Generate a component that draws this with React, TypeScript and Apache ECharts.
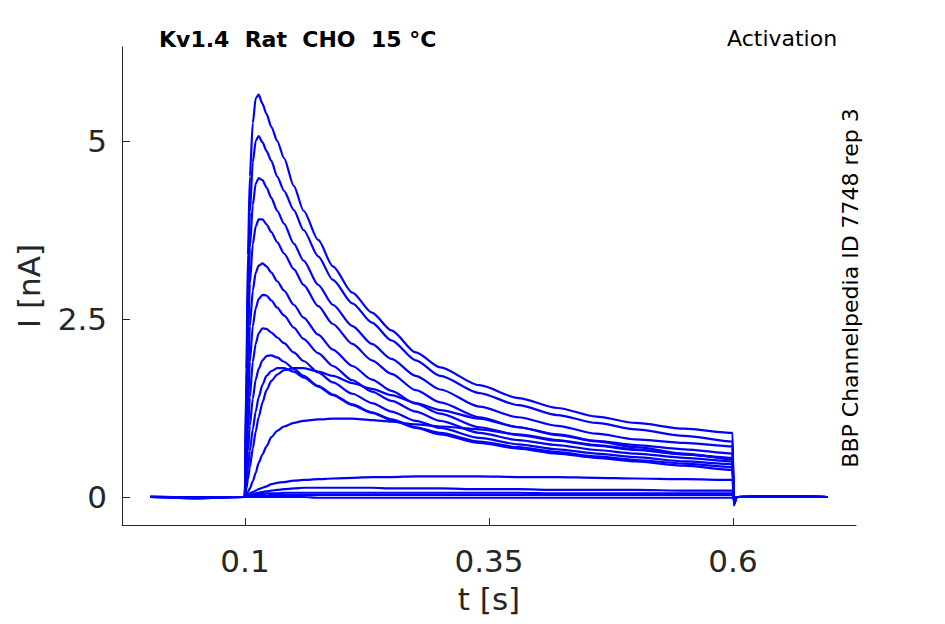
import React, { useEffect, useRef } from 'react';
import * as echarts from 'echarts';

// time samples [s]
const TIME = [0.003, 0.05, 0.0998, 0.1015, 0.103, 0.105, 0.108, 0.111, 0.114, 0.118, 0.122, 0.127, 0.133, 0.14, 0.15, 0.16, 0.175, 0.19, 0.21, 0.23, 0.25, 0.275, 0.3, 0.34, 0.38, 0.42, 0.46, 0.5, 0.55, 0.5995, 0.6008, 0.604, 0.65, 0.697];

// current traces [nA]
const I1 = [0.00, -0.01, 0.00, 1.80, 3.40, 4.50, 5.25, 5.60, 5.65, 5.52, 5.38, 5.20, 5.00, 4.76, 4.37, 4.02, 3.61, 3.24, 2.87, 2.59, 2.34, 2.03, 1.82, 1.57, 1.39, 1.25, 1.13, 1.04, 0.96, 0.90, -0.12, 0.00, 0.01, 0.00];
const I2 = [0.00, 0.00, 0.00, 1.60, 3.00, 4.00, 4.70, 5.00, 5.07, 4.98, 4.86, 4.72, 4.50, 4.30, 4.03, 3.75, 3.38, 3.05, 2.72, 2.45, 2.20, 1.92, 1.70, 1.46, 1.29, 1.15, 1.04, 0.95, 0.86, 0.78, -0.11, 0.00, 0.01, 0.00];
const I3 = [0.00, 0.00, 0.00, 1.40, 2.60, 3.50, 4.10, 4.40, 4.48, 4.45, 4.35, 4.20, 4.02, 3.84, 3.56, 3.32, 2.98, 2.70, 2.40, 2.15, 1.94, 1.70, 1.51, 1.27, 1.12, 1.00, 0.89, 0.81, 0.76, 0.71, -0.10, 0.00, 0.01, 0.00];
const I4 = [0.00, 0.00, 0.00, 1.20, 2.20, 3.00, 3.55, 3.80, 3.90, 3.90, 3.83, 3.72, 3.58, 3.42, 3.20, 2.98, 2.68, 2.43, 2.15, 1.92, 1.73, 1.50, 1.33, 1.12, 0.98, 0.88, 0.79, 0.73, 0.67, 0.61, -0.09, 0.00, 0.01, 0.00];
const I5 = [0.00, 0.00, 0.00, 0.90, 1.70, 2.40, 2.90, 3.15, 3.25, 3.28, 3.24, 3.15, 3.03, 2.90, 2.70, 2.52, 2.28, 2.07, 1.84, 1.65, 1.49, 1.31, 1.17, 0.98, 0.87, 0.79, 0.72, 0.66, 0.60, 0.55, -0.08, 0.00, 0.01, 0.00];
const I6 = [0.00, 0.00, 0.00, 0.70, 1.30, 1.90, 2.40, 2.65, 2.78, 2.84, 2.83, 2.76, 2.66, 2.55, 2.38, 2.22, 2.02, 1.84, 1.64, 1.48, 1.35, 1.20, 1.07, 0.90, 0.80, 0.73, 0.66, 0.61, 0.55, 0.50, -0.08, 0.00, 0.01, 0.00];
const I7 = [0.00, 0.00, 0.00, 0.50, 0.95, 1.40, 1.90, 2.15, 2.30, 2.37, 2.36, 2.31, 2.24, 2.16, 2.03, 1.91, 1.75, 1.61, 1.45, 1.32, 1.20, 1.07, 0.97, 0.83, 0.74, 0.67, 0.61, 0.56, 0.50, 0.46, -0.07, 0.00, 0.01, 0.00];
const I8 = [0.00, 0.00, 0.00, 0.35, 0.65, 1.00, 1.38, 1.65, 1.80, 1.92, 1.98, 1.99, 1.96, 1.90, 1.80, 1.70, 1.56, 1.44, 1.30, 1.19, 1.09, 0.98, 0.90, 0.78, 0.70, 0.63, 0.57, 0.52, 0.47, 0.42, -0.07, 0.00, 0.01, 0.00];
const I9 = [0.00, 0.00, 0.00, 0.20, 0.40, 0.65, 0.95, 1.20, 1.40, 1.58, 1.70, 1.77, 1.81, 1.81, 1.76, 1.68, 1.55, 1.43, 1.29, 1.18, 1.08, 0.97, 0.88, 0.76, 0.68, 0.61, 0.55, 0.50, 0.44, 0.38, -0.06, 0.00, 0.01, 0.00];
const I10 = [0.00, 0.00, 0.00, 0.12, 0.25, 0.42, 0.68, 0.92, 1.12, 1.33, 1.50, 1.63, 1.72, 1.78, 1.81, 1.81, 1.76, 1.70, 1.60, 1.52, 1.43, 1.32, 1.22, 1.10, 0.98, 0.87, 0.78, 0.70, 0.61, 0.53, -0.06, 0.00, 0.01, 0.00];
const I11 = [0.00, 0.00, 0.00, 0.03, 0.07, 0.12, 0.22, 0.34, 0.48, 0.60, 0.71, 0.84, 0.93, 0.99, 1.04, 1.07, 1.09, 1.10, 1.10, 1.08, 1.06, 1.02, 0.99, 0.95, 0.88, 0.80, 0.73, 0.67, 0.60, 0.54, -0.05, 0.00, 0.01, 0.00];
const I12 = [0.00, 0.00, 0.00, 0.01, 0.03, 0.05, 0.07, 0.09, 0.11, 0.13, 0.15, 0.18, 0.20, 0.21, 0.23, 0.24, 0.25, 0.26, 0.27, 0.28, 0.28, 0.29, 0.29, 0.29, 0.28, 0.28, 0.27, 0.26, 0.25, 0.24, -0.03, 0.00, 0.01, 0.00];
const I13 = [0.00, 0.00, 0.00, 0.01, 0.02, 0.03, 0.04, 0.05, 0.06, 0.07, 0.08, 0.09, 0.10, 0.11, 0.12, 0.13, 0.13, 0.13, 0.13, 0.13, 0.12, 0.12, 0.12, 0.11, 0.11, 0.10, 0.10, 0.10, 0.09, 0.09, -0.02, 0.00, 0.01, 0.00];
const I14 = [0.01, -0.01, 0.00, 0.01, 0.02, 0.02, 0.03, 0.03, 0.04, 0.04, 0.05, 0.05, 0.05, 0.06, 0.06, 0.06, 0.06, 0.06, 0.06, 0.06, 0.06, 0.06, 0.06, 0.06, 0.06, 0.05, 0.05, 0.05, 0.05, 0.05, -0.02, 0.00, 0.01, 0.00];
const I15 = [0.00, -0.02, 0.00, 0.00, 0.01, 0.01, 0.01, 0.02, 0.02, 0.02, 0.02, 0.03, 0.03, 0.03, 0.03, 0.03, 0.03, 0.03, 0.03, 0.03, 0.03, 0.03, 0.03, 0.03, 0.03, 0.03, 0.03, 0.03, 0.03, 0.03, -0.01, 0.00, 0.00, 0.00];
const I16 = [0.00, -0.02, 0.00, 0.00, 0.00, 0.00, 0.00, 0.00, 0.00, 0.00, 0.00, 0.00, 0.00, 0.00, 0.00, 0.00, -0.01, -0.01, -0.01, -0.01, -0.01, -0.01, -0.01, -0.01, -0.01, -0.01, -0.01, -0.01, -0.01, -0.01, -0.01, 0.00, 0.00, 0.00];

const TRACES = [I1, I2, I3, I4, I5, I6, I7, I8, I9, I10, I11, I12, I13, I14, I15, I16];

const X_TICKS = [0.1, 0.35, 0.6];
const X_TICK_LABELS = ['0.1', '0.35', '0.6'];
const Y_TICKS = [0, 2.5, 5];
const Y_TICK_LABELS = ['0', '2.5', '5'];

const TITLE = 'Kv1.4  Rat  CHO  15 °C';
const PROTOCOL = 'Activation';
const SOURCE = 'BBP Channelpedia ID 7748 rep 3';
const X_NAME = 't [s]';
const Y_NAME = 'I [nA]';

const FONT = '"DejaVu Sans", "Noto Sans", sans-serif';
const AXIS_COLOR = '#262626';

export default function App() {
  const ref = useRef<HTMLDivElement>(null);

  useEffect(() => {
    if (!ref.current) return;
    const chart = echarts.init(ref.current, null, { renderer: 'svg' });
    chart.setOption({
      animation: false,
      backgroundColor: '#ffffff',
      textStyle: { fontFamily: FONT },
      grid: { left: 122, top: 47, right: 89, bottom: 99, containLabel: false, outerBoundsMode: 'none' },
      xAxis: {
        type: 'value',
        min: -0.026,
        max: 0.726,
        name: X_NAME,
        nameLocation: 'middle',
        nameGap: 58,
        nameTextStyle: { fontSize: 31, color: AXIS_COLOR, fontFamily: FONT },
        axisLine: { show: true, onZero: false, lineStyle: { color: AXIS_COLOR, width: 1 } },
        axisTick: { show: true, inside: true, length: 7, customValues: X_TICKS, lineStyle: { color: AXIS_COLOR, width: 1 } },
        axisLabel: {
          customValues: X_TICKS,
          fontSize: 31,
          color: AXIS_COLOR,
          fontFamily: FONT,
          margin: 20,
          formatter: (v: number) => X_TICK_LABELS[X_TICKS.indexOf(v)] ?? String(v),
        },
        splitLine: { show: false },
      },
      yAxis: {
        type: 'value',
        min: -0.393,
        max: 6.32,
        name: Y_NAME,
        nameLocation: 'middle',
        nameGap: 78,
        nameTextStyle: { fontSize: 31, color: AXIS_COLOR, fontFamily: FONT },
        axisLine: { show: true, onZero: false, lineStyle: { color: AXIS_COLOR, width: 1 } },
        axisTick: { show: true, inside: true, length: 8, customValues: Y_TICKS, lineStyle: { color: AXIS_COLOR, width: 1 } },
        axisLabel: {
          customValues: Y_TICKS,
          fontSize: 31,
          color: AXIS_COLOR,
          fontFamily: FONT,
          margin: 15,
          formatter: (v: number) => Y_TICK_LABELS[Y_TICKS.indexOf(v)] ?? String(v),
        },
        splitLine: { show: false },
      },
      series: TRACES.map((tr, k) => ({
        name: 'trace ' + (k + 1),
        type: 'line',
        data: TIME.map((t, i) => [t, tr[i]]),
        symbol: 'none',
        showSymbol: false,
        silent: true,
        smooth: 0.25,
        smoothMonotone: 'x',
        lineStyle: { color: '#0000ff', width: 2.2 },
      })),
      graphic: [
        {
          type: 'text',
          x: 159,
          y: 39,
          style: { text: TITLE, fill: '#000000', font: 'bold 22px ' + FONT, textAlign: 'left', textVerticalAlign: 'middle', align: 'left', verticalAlign: 'middle' },
        },
        {
          type: 'text',
          x: 727,
          y: 38,
          style: { text: PROTOCOL, fill: '#000000', font: '22px ' + FONT, textAlign: 'left', textVerticalAlign: 'middle', align: 'left', verticalAlign: 'middle' },
        },
        {
          type: 'text',
          x: 850,
          y: 288,
          rotation: Math.PI / 2,
          style: { text: SOURCE, fill: '#000000', font: '22px ' + FONT, textAlign: 'center', textVerticalAlign: 'middle', align: 'center', verticalAlign: 'middle' },
        },
      ],
    });
    return () => chart.dispose();
  }, []);

  return <div ref={ref} style={{ position: 'fixed', left: 0, top: 0, width: 945, height: 624 }} />;
}
